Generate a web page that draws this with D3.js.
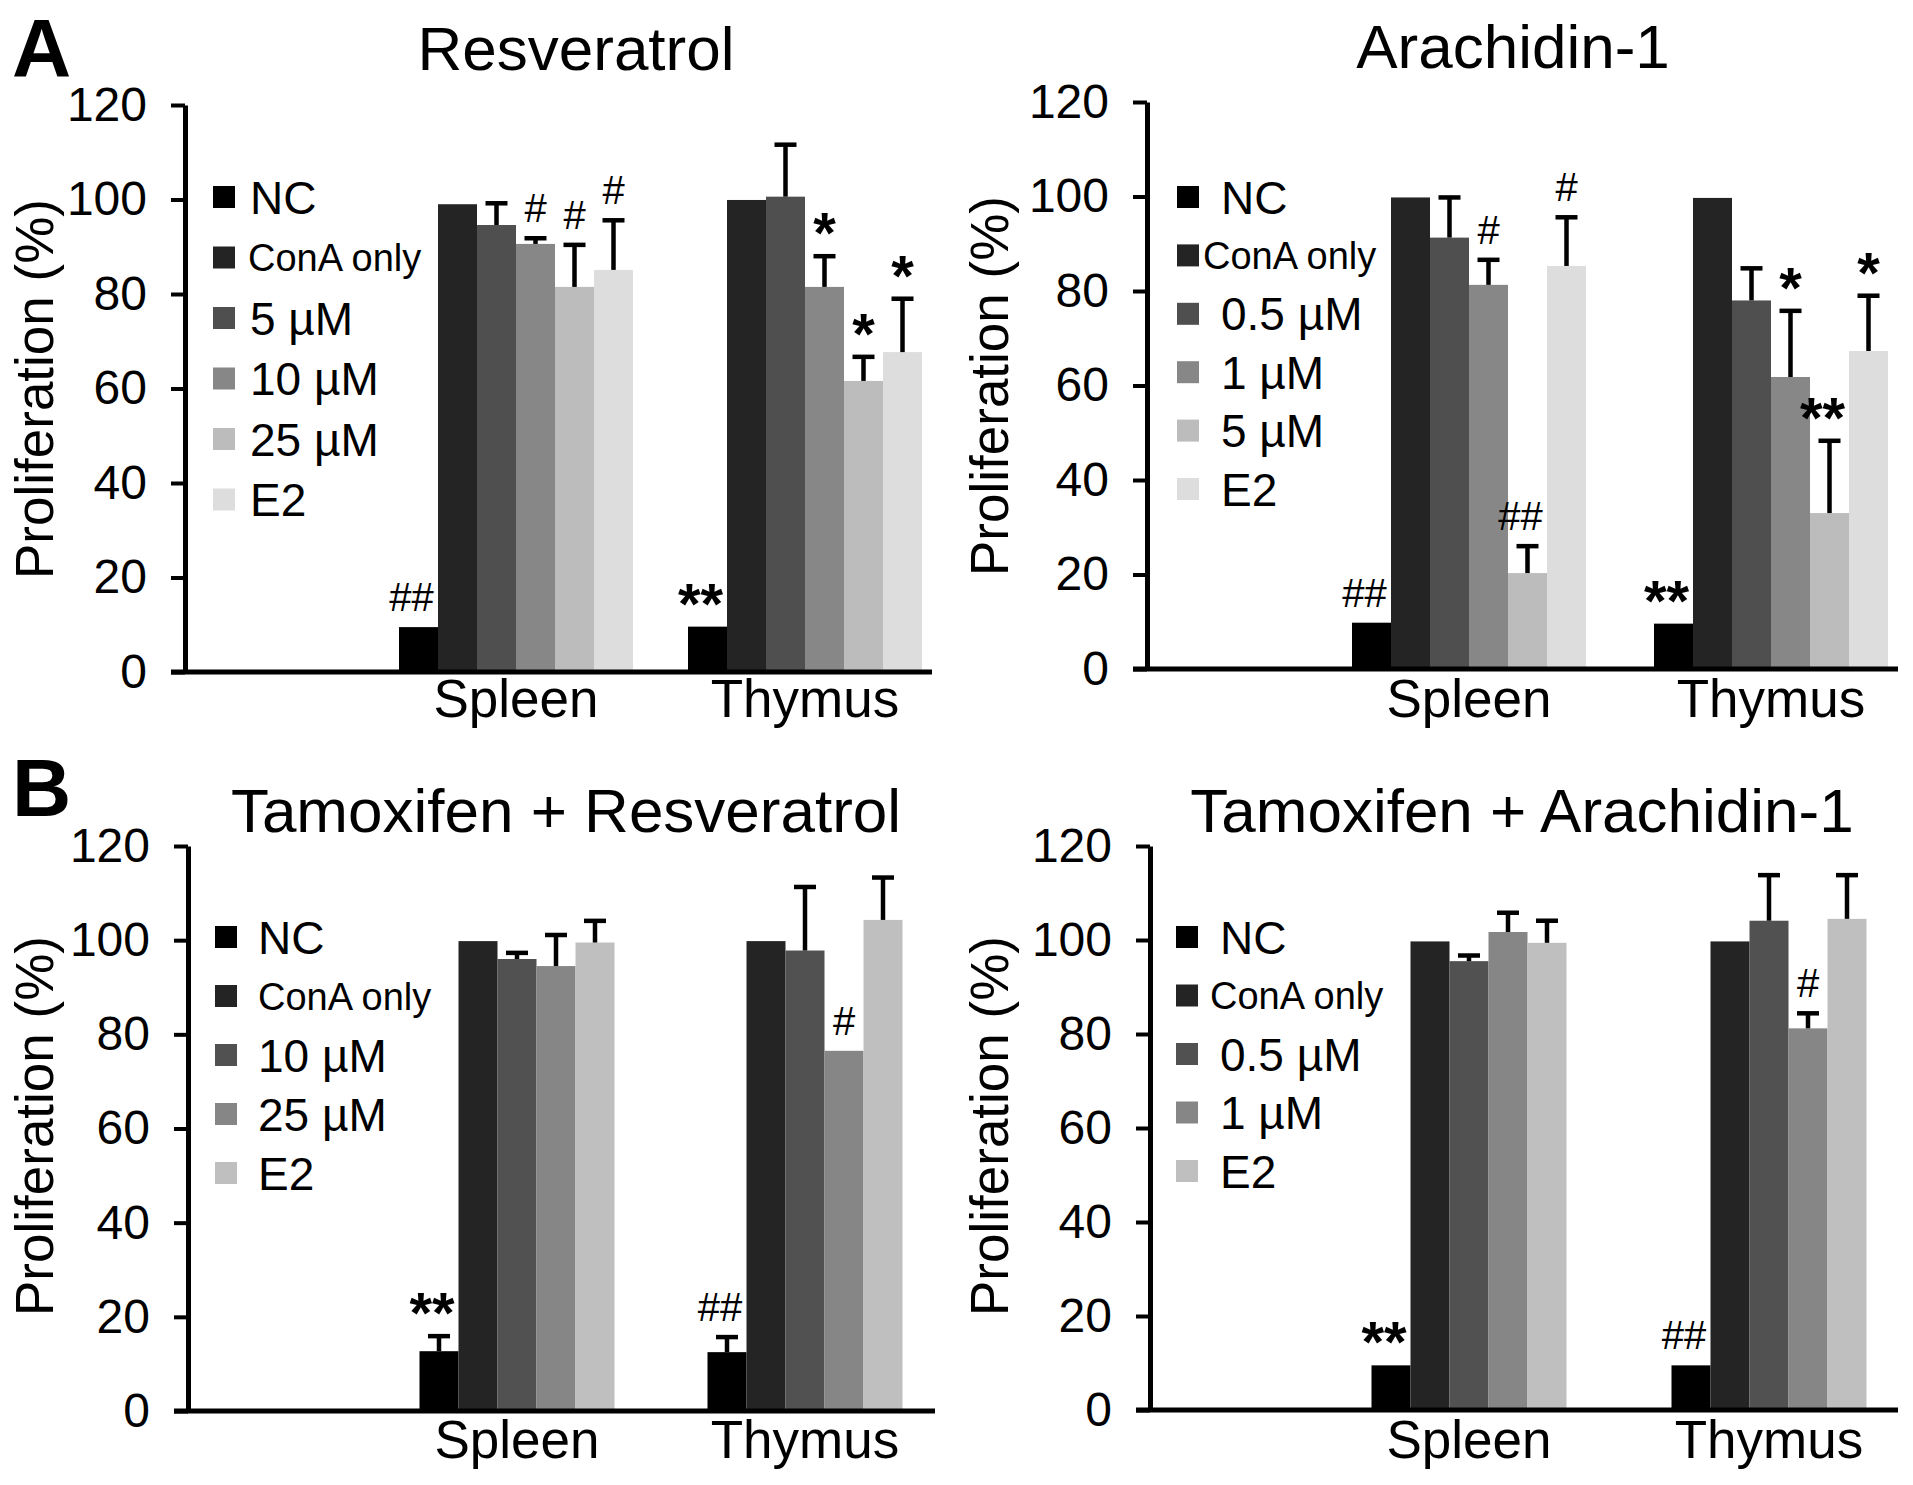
<!DOCTYPE html>
<html>
<head>
<meta charset="utf-8">
<script src="https://cdn.jsdelivr.net/npm/d3@7"></script>
<style>
  body { margin: 0; background: #fff; }
  text { font-family: "Liberation Sans", Arial, sans-serif; fill: #000; }
</style>
</head>
<body>
<div id="chart"></div>
<script>
// ---- data ----
var groups = ["Spleen", "Thymus"];
var yTicks = [0, 20, 40, 60, 80, 100, 120];

var resSeries = ["NC", "ConA only", "5 µM", "10 µM", "25 µM", "E2"];
var resSpleen = [9.5, 99.0, 94.6, 90.6, 81.5, 85.1];
var resSpleenErr = [0, 0, 4.6, 1.2, 8.9, 10.5];
var resSpleenSig = ["##", "", "", "#", "#", "#"];
var resThymus = [9.6, 99.9, 100.6, 81.5, 61.6, 67.7];
var resThymusErr = [0, 0, 11.0, 6.5, 5.1, 11.3];
var resThymusSig = ["**", "", "", "*", "*", "*"];

var araSeries = ["NC", "ConA only", "0.5 µM", "1 µM", "5 µM", "E2"];
var araSpleen = [9.8, 99.8, 91.3, 81.3, 20.3, 85.3];
var araSpleenErr = [0, 0, 8.5, 5.3, 5.7, 10.3];
var araSpleenSig = ["##", "", "", "#", "##", "#"];
var araThymus = [9.6, 99.7, 78.0, 61.8, 33.0, 67.3];
var araThymusErr = [0, 0, 6.8, 14.0, 15.3, 11.7];
var araThymusSig = ["**", "", "", "*", "**", "*"];

var tamResSeries = ["NC", "ConA only", "10 µM", "25 µM", "E2"];
var tamResSpleen = [12.7, 99.8, 96.0, 94.5, 99.5];
var tamResSpleenErr = [3.2, 0, 1.3, 6.6, 4.6];
var tamResSpleenSig = ["**", "", "", "", ""];
var tamResThymus = [12.5, 99.8, 97.8, 76.5, 104.3];
var tamResThymusErr = [3.2, 0, 13.5, 0, 9.0];
var tamResThymusSig = ["##", "", "", "#", ""];

var tamAraSeries = ["NC", "ConA only", "0.5 µM", "1 µM", "E2"];
var tamAraSpleen = [9.5, 99.7, 95.5, 101.7, 99.4];
var tamAraSpleenErr = [0, 0, 1.2, 4.1, 4.7];
var tamAraSpleenSig = ["**", "", "", "", ""];
var tamAraThymus = [9.5, 99.7, 104.1, 81.2, 104.5];
var tamAraThymusErr = [0, 0, 9.7, 3.2, 9.3];
var tamAraThymusSig = ["##", "", "", "#", ""];

var colors6 = ["#000000", "#242424", "#4f4f4f", "#878787", "#bcbcbc", "#dddddd"];
var colors5 = ["#000000", "#242424", "#515151", "#868686", "#bfbfbf"];

// ---- layout ----
var width = 1913, height = 1485;
var barW = 39;

var panels = [
  { title: "Resveratrol", titleX: 576, titleY: 70,
    series: resSeries, colors: colors6,
    values: [resSpleen, resThymus], errs: [resSpleenErr, resThymusErr], sigs: [resSpleenSig, resThymusSig],
    axisX: 185, axisEnd: 932, y0: 672, yTop: 105, groupRange: [371.5, 949.5], catY: 717,
    labelX: 53, labelY: 389,
    legX: 213, legGap: 15, conaGap: 13, legY: 197, legStep: 60.5 },
  { title: "Arachidin-1", titleX: 1513, titleY: 68,
    series: araSeries, colors: colors6,
    values: [araSpleen, araThymus], errs: [araSpleenErr, araThymusErr], sigs: [araSpleenSig, araThymusSig],
    axisX: 1147, axisEnd: 1898, y0: 669, yTop: 102, groupRange: [1318, 1922], catY: 717,
    labelX: 1008, labelY: 386,
    legX: 1177, legGap: 22, conaGap: 4, legY: 197, legStep: 58.4 },
  { title: "Tamoxifen + Resveratrol", titleX: 566, titleY: 832,
    series: tamResSeries, colors: colors5,
    values: [tamResSpleen, tamResThymus], errs: [tamResSpleenErr, tamResThymusErr], sigs: [tamResSpleenSig, tamResThymusSig],
    axisX: 188, axisEnd: 935, y0: 1411, yTop: 846, groupRange: [373, 949], catY: 1458,
    labelX: 53, labelY: 1126,
    legX: 215, legGap: 21, conaGap: 21, legY: 937, legStep: 59 },
  { title: "Tamoxifen + Arachidin-1", titleX: 1522, titleY: 832,
    series: tamAraSeries, colors: colors5,
    values: [tamAraSpleen, tamAraThymus], errs: [tamAraSpleenErr, tamAraThymusErr], sigs: [tamAraSpleenSig, tamAraThymusSig],
    axisX: 1150, axisEnd: 1898, y0: 1410, yTop: 846, groupRange: [1319, 1919], catY: 1458,
    labelX: 1008, labelY: 1126,
    legX: 1176, legGap: 22, conaGap: 12, legY: 937, legStep: 58.5 }
];

var svg = d3.select("#chart").append("svg")
  .attr("width", width)
  .attr("height", height);

svg.append("rect").attr("width", width).attr("height", height).attr("fill", "#fff");

// panel letters
svg.append("text").attr("x", 12).attr("y", 76).text("A")
  .style("font-size", "82px").style("font-weight", "bold");
svg.append("text").attr("x", 12).attr("y", 816).text("B")
  .style("font-size", "82px").style("font-weight", "bold");

function drawPanel(p) {
  var g = svg.append("g");

  var y = d3.scaleLinear().domain([0, 120]).range([p.y0, p.yTop]);
  var xGroup = d3.scaleBand().domain(groups).range(p.groupRange);
  var n = p.series.length;
  var xBar = d3.scaleBand().domain(p.series).range([-n * barW / 2, n * barW / 2]);

  // title
  g.append("text")
    .attr("x", p.titleX).attr("y", p.titleY)
    .attr("text-anchor", "middle")
    .style("font-size", "62px")
    .text(p.title);

  // y axis title
  g.append("text")
    .attr("transform", "translate(" + p.labelX + "," + p.labelY + ") rotate(-90)")
    .attr("text-anchor", "middle")
    .style("font-size", "53px")
    .text("Proliferation (%)");

  // bars
  groups.forEach(function (grp, gi) {
    var cx = xGroup(grp) + xGroup.bandwidth() / 2;
    var rows = p.series.map(function (s, i) {
      return { s: s, i: i, v: p.values[gi][i], e: p.errs[gi][i], sig: p.sigs[gi][i] };
    });
    var bg = g.append("g").attr("transform", "translate(" + cx + ",0)");

    bg.selectAll("rect")
      .data(rows)
      .enter()
      .append("rect")
      .attr("x", function (d) { return xBar(d.s); })
      .attr("y", function (d) { return y(d.v); })
      .attr("width", xBar.bandwidth())
      .attr("height", function (d) { return y(0) - y(d.v); })
      .style("fill", function (d) { return p.colors[d.i]; });

    // error bars (upper half only)
    var eb = rows.filter(function (d) { return d.e > 0; });
    bg.selectAll("line.ev")
      .data(eb)
      .enter()
      .append("line")
      .attr("class", "ev")
      .attr("x1", function (d) { return xBar(d.s) + xBar.bandwidth() / 2; })
      .attr("x2", function (d) { return xBar(d.s) + xBar.bandwidth() / 2; })
      .attr("y1", function (d) { return y(d.v); })
      .attr("y2", function (d) { return y(d.v + d.e); })
      .style("stroke", "#000").style("stroke-width", 4.5);
    bg.selectAll("line.ec")
      .data(eb)
      .enter()
      .append("line")
      .attr("class", "ec")
      .attr("x1", function (d) { return xBar(d.s) + xBar.bandwidth() / 2 - 11; })
      .attr("x2", function (d) { return xBar(d.s) + xBar.bandwidth() / 2 + 11; })
      .attr("y1", function (d) { return y(d.v + d.e); })
      .attr("y2", function (d) { return y(d.v + d.e); })
      .style("stroke", "#000").style("stroke-width", 4.5);

    // significance marks
    bg.selectAll("text.sig")
      .data(rows.filter(function (d) { return d.sig; }))
      .enter()
      .append("text")
      .attr("class", "sig")
      .attr("x", function (d) { return xBar(d.s) + xBar.bandwidth() / 2 - (d.sig.length > 1 ? 7 : 0); })
      .attr("y", function (d) {
        var top = y(d.v + d.e);
        return d.sig.charAt(0) == "*" ? top - 3 : top - 16;
      })
      .attr("text-anchor", "middle")
      .style("font-size", function (d) { return d.sig.charAt(0) == "*" ? "58px" : "40px"; })
      .style("font-weight", function (d) { return d.sig.charAt(0) == "*" ? "bold" : "normal"; })
      .text(function (d) { return d.sig; });

    // category label
    g.append("text")
      .attr("x", cx).attr("y", p.catY)
      .attr("text-anchor", "middle")
      .style("font-size", "53px")
      .text(grp);
  });

  // y axis
  var yAxis = d3.axisLeft(y).tickValues(yTicks).tickSize(14).tickSizeOuter(0).tickPadding(24);
  var ya = g.append("g").attr("transform", "translate(" + p.axisX + ",0)").call(yAxis);
  ya.select(".domain").style("stroke", "#000").style("stroke-width", 5);
  ya.selectAll(".tick line").style("stroke", "#000").style("stroke-width", 4);
  ya.selectAll(".tick text")
    .style("font-size", "48px")
    .style("font-family", "'Liberation Sans', Arial, sans-serif")
    .attr("fill", "#000");

  // x axis line
  g.append("line")
    .attr("x1", p.axisX - 14).attr("x2", p.axisEnd)
    .attr("y1", y(0)).attr("y2", y(0))
    .style("stroke", "#000").style("stroke-width", 5);

  // legend
  var leg = g.selectAll("g.leg")
    .data(p.series)
    .enter()
    .append("g")
    .attr("class", "leg")
    .attr("transform", function (d, i) { return "translate(" + p.legX + "," + (p.legY + i * p.legStep) + ")"; });
  leg.append("rect")
    .attr("x", 0).attr("y", -11)
    .attr("width", 22).attr("height", 22)
    .style("fill", function (d, i) { return p.colors[i]; });
  leg.append("text")
    .attr("x", function (d) { return 22 + (d == "ConA only" ? p.conaGap : p.legGap); })
    .attr("y", 0)
    .attr("dy", "0.36em")
    .style("font-size", function (d) { return d == "ConA only" ? "38px" : "46px"; })
    .text(function (d) { return d; });
}

panels.forEach(drawPanel);
</script>
</body>
</html>
